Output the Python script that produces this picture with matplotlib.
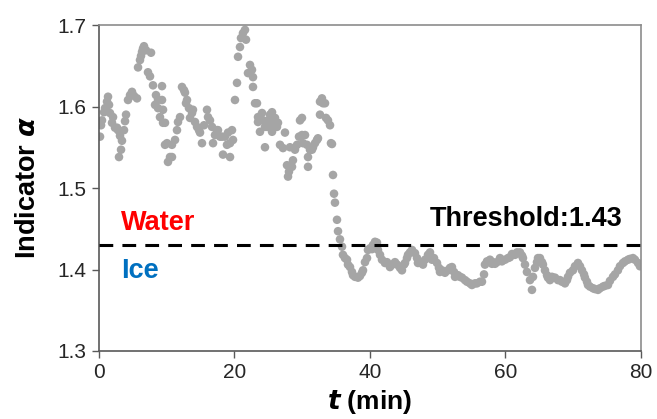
import matplotlib
matplotlib.use("Agg")
import matplotlib.pyplot as plt

# =========================
# DATA
# =========================
t_water = [0.15, 0.30, 0.44, 0.74, 0.89, 1.18, 1.33, 1.48, 1.62, 1.92, 2.07, 2.36, 2.66, 2.80,
           2.95, 3.10, 3.25, 3.39, 3.69, 3.84, 3.99, 4.28, 4.58, 4.87, 5.17, 5.61, 5.76, 6.05,
           6.20, 6.35, 6.49, 6.64, 6.94, 7.23, 7.53, 7.68, 7.97, 8.27, 8.41, 8.71, 8.71, 9.00,
           9.30, 9.30, 9.45, 9.45, 9.74, 9.74, 10.04, 10.18, 10.48, 10.77, 10.77, 11.22, 11.51,
           11.66, 11.96, 12.25, 12.55, 12.69, 12.84, 12.99, 13.28, 13.43, 13.73, 13.87, 14.17,
           14.47, 14.76, 14.91, 15.20, 15.50, 15.94, 16.09, 16.38, 16.68, 16.83, 17.12, 17.42,
           17.56, 17.86, 18.15, 18.30, 18.60, 18.89, 19.04, 19.34, 19.34, 19.63, 19.78, 20.07,
           20.37, 20.52, 20.81, 20.96, 21.25, 21.55, 21.70, 21.99, 22.29, 22.58, 22.73, 22.73,
           23.03, 23.32, 23.47, 23.47, 23.76, 23.76, 24.06, 24.21, 24.50, 24.50, 24.80, 24.95,
           25.24, 25.54, 25.54, 25.68, 25.98, 26.27, 26.42, 26.72, 27.16, 27.45, 27.75, 27.90,
           28.04, 28.19, 28.49, 28.63, 28.93, 29.23, 29.52, 29.67, 29.96, 29.96, 30.11, 30.41,
           30.70, 30.85, 30.85, 31.14, 31.44, 31.59, 31.88, 32.18, 32.32, 32.62, 32.62, 32.91,
           33.06, 33.36, 33.51, 33.80, 34.10, 34.24, 34.39, 34.54, 34.69]
a_water = [1.563, 1.577, 1.583, 1.593, 1.598, 1.606, 1.612, 1.602, 1.592, 1.580, 1.587, 1.574,
           1.574, 1.571, 1.538, 1.564, 1.547, 1.558, 1.571, 1.582, 1.590, 1.608, 1.614, 1.618,
           1.613, 1.610, 1.648, 1.657, 1.662, 1.667, 1.671, 1.674, 1.669, 1.642, 1.637, 1.666,
           1.626, 1.602, 1.614, 1.608, 1.598, 1.587, 1.625, 1.608, 1.596, 1.580, 1.580, 1.553,
           1.555, 1.532, 1.538, 1.538, 1.553, 1.559, 1.571, 1.581, 1.587, 1.624, 1.620, 1.617,
           1.604, 1.608, 1.598, 1.586, 1.592, 1.596, 1.581, 1.575, 1.571, 1.568, 1.555, 1.577,
           1.596, 1.587, 1.583, 1.575, 1.555, 1.565, 1.571, 1.571, 1.563, 1.563, 1.541, 1.563,
           1.553, 1.568, 1.538, 1.555, 1.571, 1.559, 1.608, 1.629, 1.661, 1.673, 1.684, 1.690,
           1.694, 1.682, 1.641, 1.651, 1.645, 1.636, 1.624, 1.604, 1.604, 1.581, 1.587, 1.587,
           1.569, 1.592, 1.583, 1.575, 1.550, 1.575, 1.583, 1.590, 1.593, 1.569, 1.577, 1.586,
           1.575, 1.580, 1.553, 1.549, 1.568, 1.528, 1.514, 1.520, 1.550, 1.526, 1.534, 1.547,
           1.553, 1.563, 1.583, 1.565, 1.586, 1.555, 1.565, 1.553, 1.538, 1.526, 1.547, 1.547,
           1.550, 1.555, 1.559, 1.561, 1.590, 1.606, 1.610, 1.604, 1.604, 1.586, 1.583, 1.577,
           1.555, 1.554, 1.516, 1.493]

t_ice = [34.83, 35.13, 35.28, 35.57, 35.87, 36.01, 36.31, 36.61, 36.75, 37.05, 37.34, 37.49,
         37.79, 38.23, 38.52, 38.82, 38.97, 39.26, 39.56, 39.70, 40.00, 40.30, 40.44, 40.74,
         41.03, 41.18, 41.48, 41.77, 42.21, 42.51, 42.95, 43.25, 43.69, 43.99, 44.43, 44.72,
         45.02, 45.17, 45.46, 45.61, 45.90, 46.20, 46.64, 46.94, 47.08, 47.38, 47.82, 48.12,
         48.56, 48.86, 49.15, 49.45, 49.89, 50.18, 50.33, 50.63, 51.07, 51.51, 51.81, 52.10,
         52.40, 52.55, 52.99, 53.28, 53.58, 54.02, 54.32, 54.76, 55.05, 55.50, 55.79, 56.24,
         56.53, 56.83, 56.97, 57.27, 57.71, 58.01, 58.15, 58.45, 58.75, 59.19, 59.48, 59.93,
         60.37, 60.66, 60.96, 61.40, 61.70, 62.14, 62.44, 62.58, 62.88, 63.17, 63.62, 63.91,
         64.06, 64.35, 64.65, 64.80, 65.09, 65.39, 65.53, 65.83, 66.13, 66.27, 66.57, 66.86,
         67.31, 67.75, 68.04, 68.34, 68.78, 69.08, 69.23, 69.52, 69.96, 70.26, 70.70, 71.00,
         71.29, 71.59, 71.73, 72.03, 72.18, 72.47, 72.91, 73.21, 73.65, 73.95, 74.39, 74.69,
         75.13, 75.42, 75.87, 76.16, 76.60, 76.90, 77.34, 77.64, 78.08, 78.38, 78.82, 79.11,
         79.56, 79.85]
a_ice = [1.482, 1.461, 1.447, 1.437, 1.428, 1.418, 1.414, 1.412, 1.406, 1.403, 1.397, 1.393,
         1.391, 1.390, 1.392, 1.396, 1.399, 1.409, 1.414, 1.424, 1.426, 1.425, 1.430, 1.434,
         1.433, 1.424, 1.418, 1.412, 1.408, 1.409, 1.403, 1.406, 1.409, 1.406, 1.402, 1.399,
         1.406, 1.408, 1.414, 1.418, 1.421, 1.424, 1.420, 1.414, 1.408, 1.409, 1.406, 1.412,
         1.418, 1.421, 1.412, 1.414, 1.408, 1.402, 1.397, 1.399, 1.396, 1.399, 1.402, 1.403,
         1.397, 1.391, 1.393, 1.391, 1.390, 1.387, 1.385, 1.383, 1.381, 1.383, 1.383, 1.385,
         1.385, 1.394, 1.406, 1.410, 1.412, 1.407, 1.409, 1.407, 1.409, 1.414, 1.410, 1.412,
         1.414, 1.415, 1.419, 1.418, 1.421, 1.421, 1.417, 1.414, 1.406, 1.397, 1.387, 1.375,
         1.391, 1.402, 1.409, 1.414, 1.414, 1.409, 1.406, 1.399, 1.393, 1.390, 1.387, 1.391,
         1.390, 1.387, 1.387, 1.385, 1.383, 1.387, 1.391, 1.396, 1.399, 1.404, 1.408, 1.404,
         1.399, 1.394, 1.390, 1.385, 1.381, 1.379, 1.377, 1.376, 1.375, 1.377, 1.379, 1.380,
         1.381, 1.386, 1.391, 1.394, 1.399, 1.404, 1.408, 1.410, 1.412, 1.413, 1.414, 1.412,
         1.408, 1.404]

threshold = 1.43
x_ticks = [0, 20, 40, 60, 80]
y_ticks = [1.3, 1.4, 1.5, 1.6, 1.7]

# =========================
# CHART
# =========================
plt.rcParams["font.family"] = ["Liberation Sans", "DejaVu Sans"]

fig = plt.figure(figsize=(6.57, 4.19), dpi=100)
ax = fig.add_axes([0.1507, 0.1623, 0.8249, 0.778])

dot = "#a5a5a5"
ax.scatter(t_water, a_water, s=38, color=dot, edgecolors="none", zorder=2)
ax.scatter(t_ice, a_ice, s=38, color=dot, edgecolors="none", zorder=2)

ax.axhline(threshold, color="black", linestyle=(0, (4.5, 3)), linewidth=2.2, zorder=3)

ax.text(77.2, 1.453, f"Threshold:{threshold}", ha="right", va="baseline",
        fontsize=19.5, fontweight="bold", color="black")
ax.text(3.2, 1.449, "Water", ha="left", va="baseline", fontsize=19.5,
        fontweight="bold", color="#ff0000")
ax.text(3.2, 1.390, "Ice", ha="left", va="baseline", fontsize=19.5,
        fontweight="bold", color="#0070c0")

ax.set_xlim(0, 80)
ax.set_ylim(1.3, 1.7)
ax.set_xticks(x_ticks)
ax.set_yticks(y_ticks)
ax.set_xticklabels([str(v) for v in x_ticks])
ax.set_yticklabels([f"{v:.1f}" for v in y_ticks])

for lab in ax.get_xticklabels() + ax.get_yticklabels():
    lab.set_fontsize(15)
    lab.set_color("#262626")

ax.tick_params(direction="out", length=5, width=1, color="#595959", pad=4)

for side in ["left", "bottom"]:
    ax.spines[side].set_color("#595959")
    ax.spines[side].set_linewidth(1.2)
for side in ["top", "right"]:
    ax.spines[side].set_color("#8c8c8c")
    ax.spines[side].set_linewidth(1.2)

ax.set_xlabel(r"$\boldsymbol{t}$ (min)", fontsize=19, fontweight="bold", labelpad=4)
ax.set_ylabel(r"Indicator $\boldsymbol{\alpha}$", fontsize=19.5, fontweight="bold", labelpad=12)

fig.savefig("out.png", dpi=100)
